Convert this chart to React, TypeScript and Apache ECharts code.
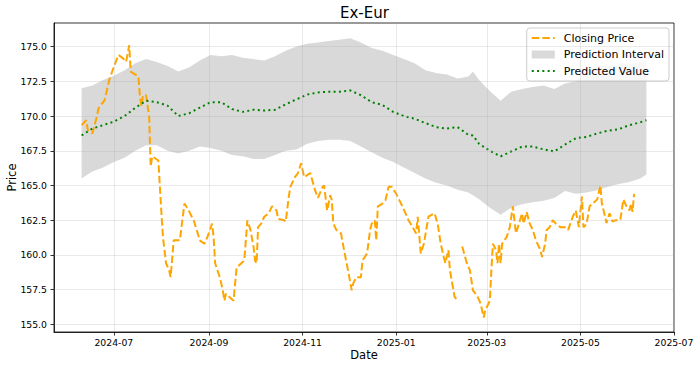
import React, { useEffect, useRef } from 'react';
import * as echarts from 'echarts';

// ---- Data ----
const closeDates = [
  '2024-06-10','2024-06-13','2024-06-14','2024-06-17','2024-06-20','2024-06-21','2024-06-25','2024-06-28',
  '2024-07-01','2024-07-04','2024-07-07','2024-07-09','2024-07-11','2024-07-12','2024-07-17','2024-07-18',
  '2024-07-19','2024-07-20','2024-07-22','2024-07-24','2024-07-25','2024-07-26','2024-07-30','2024-08-01',
  '2024-08-02','2024-08-04','2024-08-06','2024-08-07','2024-08-09','2024-08-13','2024-08-16','2024-08-18',
  '2024-08-22','2024-08-24','2024-08-26','2024-08-29','2024-08-31','2024-09-03','2024-09-04','2024-09-05',
  '2024-09-08','2024-09-10','2024-09-11','2024-09-12','2024-09-17','2024-09-19','2024-09-24','2024-09-26',
  '2024-09-28','2024-09-30','2024-10-01','2024-10-02','2024-10-03','2024-10-05','2024-10-07','2024-10-10',
  '2024-10-12','2024-10-15','2024-10-16','2024-10-20','2024-10-21','2024-10-23','2024-10-24','2024-10-27',
  '2024-10-29','2024-10-31','2024-11-02','2024-11-06','2024-11-09','2024-11-11','2024-11-14','2024-11-15',
  '2024-11-17','2024-11-19','2024-11-20','2024-11-21','2024-11-23','2024-11-26','2024-11-28','2024-12-01',
  '2024-12-03','2024-12-04','2024-12-06','2024-12-09','2024-12-10','2024-12-13','2024-12-15','2024-12-16',
  '2024-12-18','2024-12-19','2024-12-20','2024-12-23','2024-12-25','2024-12-27','2024-12-29','2025-01-01',
  '2025-01-05','2025-01-09','2025-01-14','2025-01-15','2025-01-17','2025-01-19','2025-01-22','2025-01-26',
  '2025-01-28','2025-01-30','2025-02-01','2025-02-02','2025-02-04','2025-02-05','2025-02-08','2025-02-10',
  '2025-02-12','2025-02-13','2025-02-16','2025-02-18','2025-02-20','2025-02-23','2025-02-25','2025-02-27',
  '2025-02-28','2025-03-03','2025-03-04','2025-03-05','2025-03-07','2025-03-08','2025-03-09','2025-03-10',
  '2025-03-11','2025-03-14','2025-03-16','2025-03-18','2025-03-20','2025-03-22','2025-03-24','2025-03-25',
  '2025-03-27','2025-03-29','2025-03-31','2025-04-02','2025-04-05','2025-04-06','2025-04-08','2025-04-09',
  '2025-04-11','2025-04-13','2025-04-15','2025-04-18','2025-04-21','2025-04-23','2025-04-26','2025-04-28',
  '2025-04-30','2025-05-02','2025-05-03','2025-05-05','2025-05-07','2025-05-09','2025-05-12','2025-05-14',
  '2025-05-15','2025-05-17','2025-05-18','2025-05-20','2025-05-22','2025-05-24','2025-05-27','2025-05-29',
  '2025-05-31','2025-06-02','2025-06-03','2025-06-04','2025-06-05'
];
const closeValues: (number | null)[] = [
  169.35,169.7,169.0,168.75,170.0,170.55,171.15,172.6,
  173.55,174.4,174.15,173.9,175.1,173.2,172.85,171.4,
  170.7,171.5,171.5,170.0,166.35,167.1,166.8,163.0,
  161.3,159.4,158.9,158.4,161.05,161.05,163.7,163.35,
  162.5,161.8,161.05,160.8,161.3,162.25,161.3,159.4,
  158.4,157.45,156.7,157.2,156.7,159.1,159.6,162.5,
  161.8,160.6,159.6,159.4,162.0,162.25,162.75,163.0,
  163.5,163.2,162.6,162.5,162.4,164.2,164.9,165.6,
  165.9,166.6,165.6,165.9,164.7,164.1,164.9,165.0,
  163.2,164.3,163.95,162.25,161.8,161.55,160.35,158.65,
  157.45,157.95,158.4,158.4,159.6,160.1,161.8,162.25,
  162.5,161.05,163.5,163.7,163.95,164.9,164.9,164.4,
  163.5,162.5,161.55,162.75,160.1,160.8,162.75,163.0,
  162.25,160.8,159.85,159.4,160.35,158.9,157.0,156.7,
  null,160.6,159.4,158.9,157.45,157.0,156.5,155.5,
  156.0,156.7,158.9,160.8,160.35,159.4,160.8,159.4,
  160.8,161.3,162.0,163.5,161.55,162.25,163.0,162.25,
  163.1,162.25,161.8,161.05,160.35,159.85,160.8,161.8,
  162.0,162.5,162.25,162.0,162.0,161.8,162.75,163.2,
  162.0,164.2,162.0,162.2,163.5,163.7,164.0,165.0,
  163.7,162.8,162.3,163.0,162.4,162.5,162.5,164.0,
  163.5,163.2,163.7,163.1,164.4
];

const bandDates = [
  '2024-06-10','2024-06-17','2024-06-24','2024-07-01','2024-07-08','2024-07-15','2024-07-22','2024-07-29',
  '2024-08-05','2024-08-12','2024-08-19','2024-08-26','2024-09-02','2024-09-09','2024-09-16','2024-09-23',
  '2024-09-30','2024-10-07','2024-10-14','2024-10-21','2024-10-28','2024-11-04','2024-11-11','2024-11-18',
  '2024-11-25','2024-12-02','2024-12-09','2024-12-16','2024-12-23','2024-12-30','2025-01-06','2025-01-13',
  '2025-01-20','2025-01-27','2025-02-03','2025-02-10','2025-02-17','2025-02-20','2025-02-24','2025-03-03',
  '2025-03-10','2025-03-17','2025-03-24','2025-03-31','2025-04-07','2025-04-14','2025-04-21','2025-04-28',
  '2025-05-05','2025-05-12','2025-05-19','2025-05-26','2025-06-02','2025-06-09','2025-06-13'
];
const bandUpper = [
  172.0,172.2,172.6,172.9,173.3,173.8,174.1,173.9,
  173.6,173.2,173.5,174.0,174.4,174.3,174.4,174.2,
  174.1,174.0,174.3,174.7,175.0,175.2,175.3,175.4,
  175.5,175.6,175.3,174.9,174.7,174.4,174.1,173.8,
  173.3,173.1,173.0,172.7,172.85,173.2,172.6,171.8,
  171.1,171.75,171.95,172.1,172.2,171.95,172.35,172.5,
  173.3,173.6,173.6,173.7,173.8,173.9,174.0
];
const bandLower = [
  165.5,166.0,166.3,166.7,167.0,167.5,167.9,167.9,
  167.5,167.3,167.5,167.8,167.7,167.5,167.2,167.1,
  166.9,166.9,167.2,167.5,167.6,168.0,168.2,168.3,
  168.3,168.2,167.8,167.4,167.0,166.7,166.3,165.9,
  165.5,165.2,165.0,164.7,164.5,164.3,164.0,163.4,
  162.9,163.4,163.65,163.8,163.9,164.1,164.6,164.4,
  164.5,164.65,164.9,165.1,165.25,165.5,165.8
];
const predictedValues = [
  168.6,169.1,169.35,169.6,170.0,170.6,171.1,171.0,
  170.75,170.0,170.2,170.6,171.0,171.0,170.5,170.3,
  170.45,170.4,170.45,170.85,171.2,171.55,171.7,171.75,
  171.75,171.85,171.5,171.0,170.8,170.3,170.0,169.8,
  169.5,169.2,169.1,169.2,168.65,168.6,168.0,167.5,
  167.1,167.45,167.8,167.8,167.6,167.45,167.95,168.4,
  168.5,168.75,168.95,169.05,169.35,169.55,169.7
];

const yTicks = [155, 157.5, 160, 162.5, 165, 167.5, 170, 172.5, 175];
const xTickDates = ['2024-07-01','2024-09-01','2024-11-01','2025-01-01','2025-03-01','2025-05-01','2025-07-01'];
const xRange = ['2024-05-23', '2025-07-01'];
const yRange = [154.45, 176.7];

const FONT = 'DejaVu Sans';

const toTime = (s: string) => {
  const [y, m, d] = s.split('-').map(Number);
  return new Date(y, m - 1, d).getTime();
};
const fmtMonth = (v: number) => {
  const d = new Date(v);
  return `${d.getFullYear()}-${String(d.getMonth() + 1).padStart(2, '0')}`;
};

export default function App() {
  const ref = useRef<HTMLDivElement>(null);

  useEffect(() => {
    if (!ref.current) return;
    const chart = echarts.init(ref.current, undefined, { renderer: 'svg' });
    const xTicks = xTickDates.map(toTime);
    const closeData = closeDates.map((d, i) => [toTime(d), closeValues[i]]);
    const bandData = bandDates.map((d, i) => [toTime(d), bandLower[i], bandUpper[i]]);
    const predData = bandDates.map((d, i) => [toTime(d), predictedValues[i]]);
    const bandColor = 'rgba(128,128,128,0.3)';
    const hiddenSymbol = { color: 'transparent', borderColor: 'transparent', borderWidth: 0 };

    const option: any = {
      animation: false,
      textStyle: { fontFamily: FONT },
      title: {
        text: 'Ex-Eur',
        left: 340,
        top: 5,
        padding: 0,
        textStyle: { fontSize: 15, fontWeight: 'normal', color: '#000', fontFamily: FONT },
      },
      grid: {
        left: 54, right: 26, top: 23, bottom: 36,
        outerBoundsMode: 'none',
        containLabel: false,
        show: true, borderColor: '#000', borderWidth: 0.8, backgroundColor: 'transparent',
      },
      legend: {
        orient: 'vertical',
        right: 31,
        top: 28,
        padding: [4, 5, 4, 4],
        itemWidth: 23,
        itemHeight: 8,
        itemGap: 4.5,
        backgroundColor: 'rgba(255,255,255,0.8)',
        borderColor: '#cccccc',
        borderWidth: 1,
        borderRadius: 3,
        textStyle: { fontSize: 11, color: '#000', fontFamily: FONT, padding: [0, 0, 0, 4], lineHeight: 12 },
        data: [
          { name: 'Closing Price', itemStyle: hiddenSymbol },
          { name: 'Prediction Interval', icon: 'rect', itemStyle: { color: bandColor } },
          { name: 'Predicted Value', itemStyle: hiddenSymbol },
        ],
      },
      xAxis: {
        type: 'value',
        min: toTime(xRange[0]),
        max: toTime(xRange[1]),
        name: 'Date',
        nameLocation: 'middle',
        nameGap: 16.5,
        nameMoveOverlap: false,
        nameTextStyle: { fontSize: 11.5, color: '#000', fontFamily: FONT },
        axisLine: { show: true, onZero: false, lineStyle: { color: '#000', width: 0.8 } },
        axisTick: { show: true, inside: false, length: 3.5, customValues: xTicks, lineStyle: { color: '#000', width: 0.8 } },
        axisLabel: { customValues: xTicks, formatter: fmtMonth, fontSize: 9.3, color: '#000', margin: 6, fontFamily: FONT, hideOverlap: false },
        splitLine: { show: false },
      },
      yAxis: {
        type: 'value',
        min: yRange[0],
        max: yRange[1],
        name: 'Price',
        nameLocation: 'middle',
        nameGap: 36,
        nameMoveOverlap: false,
        nameTextStyle: { fontSize: 11.5, color: '#000', fontFamily: FONT },
        axisLine: { show: true, onZero: false, lineStyle: { color: '#000', width: 0.8 } },
        axisTick: { show: true, inside: false, length: 3.5, customValues: yTicks, lineStyle: { color: '#000', width: 0.8 } },
        axisLabel: { customValues: yTicks, formatter: (v: number) => v.toFixed(1), fontSize: 9.3, color: '#000', margin: 7, fontFamily: FONT },
        splitLine: { show: false },
      },
      series: [
        {
          name: 'Prediction Interval',
          type: 'custom',
          data: bandData,
          encode: { x: 0, y: [1, 2] },
          itemStyle: { color: bandColor },
          silent: true,
          z: 1,
          renderItem: (params: any, api: any) => {
            if (params.dataIndex !== 0) return null;
            const upper = bandData.map((p) => api.coord([p[0], p[2]]));
            const lower = bandData.map((p) => api.coord([p[0], p[1]])).reverse();
            return {
              type: 'polygon',
              shape: { points: upper.concat(lower) },
              style: { fill: bandColor, stroke: 'none' },
              silent: true,
            };
          },
        },
        {
          name: '__grid',
          type: 'line',
          data: [],
          silent: true,
          z: 2,
          markLine: {
            silent: true,
            symbol: ['none', 'none'],
            label: { show: false },
            animation: false,
            lineStyle: { color: '#b0b0b0', opacity: 0.35, width: 0.8, type: 'solid' },
            emphasis: { disabled: true },
            data: [
              ...yTicks.map((v) => ({ yAxis: v })),
              ...xTicks.map((v) => ({ xAxis: v })),
            ],
          },
        },
        {
          name: 'Closing Price',
          type: 'line',
          data: closeData,
          symbol: 'none',
          connectNulls: false,
          itemStyle: { color: '#FFA500' },
          lineStyle: { color: '#FFA500', width: 2, type: [7.4, 3.2] },
          z: 3,
        },
        {
          name: 'Predicted Value',
          type: 'line',
          data: predData,
          symbol: 'none',
          itemStyle: { color: '#008000' },
          lineStyle: { color: '#008000', width: 2, type: [2, 3.3] },
          z: 3,
        },
      ],
    };
    chart.setOption(option);
    return () => chart.dispose();
  }, []);

  return (
    <div
      ref={ref}
      style={{ position: 'fixed', left: 0, top: 0, width: 700, height: 368, background: '#fff' }}
    />
  );
}
